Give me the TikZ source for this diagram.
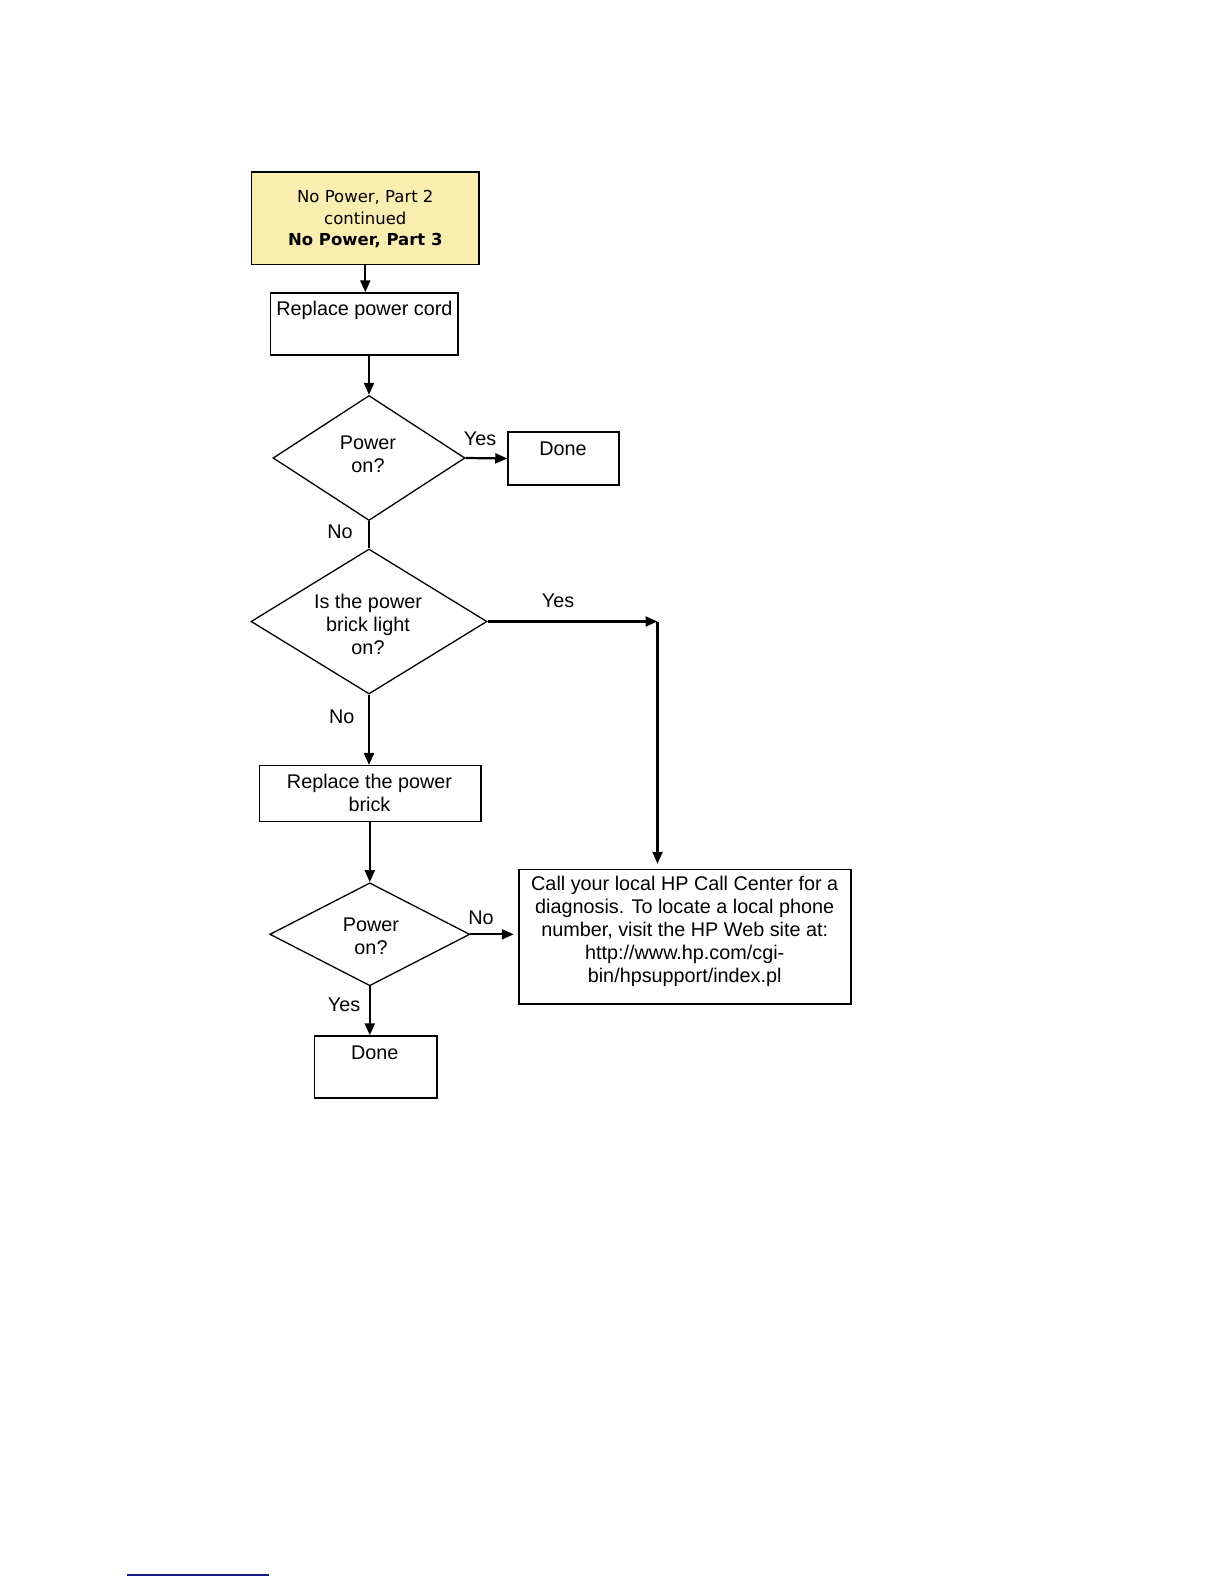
\documentclass[tikz,border=0pt]{standalone}
\usepackage{fontspec}
\setmainfont{Liberation Sans}
\newfontfamily\tahomalike{DejaVu Sans}
\usetikzlibrary{shapes.geometric,arrows.meta}
\definecolor{startyellow}{RGB}{250,237,176}
\definecolor{footblue}{RGB}{25,25,135}
\tikzset{
  box/.style={draw=black, line width=1.5pt, rectangle, inner sep=0pt},
  dia/.style={draw=black, line width=1.3pt, diamond, inner sep=0pt},
  txt/.style={font=\fontsize{19.8}{23}\selectfont, align=center, inner sep=0pt},
  lbl/.style={font=\fontsize{19.8}{23}\selectfont, inner sep=0pt},
  conn/.style={line width=2.2pt, -{Triangle[length=12pt,width=10pt]}},
  plain/.style={line width=2.2pt}
}
\begin{document}
\begin{tikzpicture}[x=1pt,y=-1pt]
\useasboundingbox (0,0) rectangle (1224,1584);
% start box
\node[box, fill=startyellow, minimum width=227.5pt, minimum height=92.5pt] (start) at (365.3,218.1) {};
\node[font=\tahomalike\fontsize{16.5}{21.5}\selectfont, align=center, inner sep=0pt] (starttxt) at (365.3,219.5)
  {No Power, Part 2\\continued\\\textbf{No Power, Part 3}};
% replace power cord
\node[box, minimum width=187.5pt, minimum height=62pt] (cord) at (364.4,324) {};
\node[txt] (cordtxt) at (364.4,310) {Replace power cord};
% first decision
\node[dia, minimum width=192pt, minimum height=125pt] (d1) at (369,458) {};
\node[txt] (d1txt) at (368,454) {Power\\on?};
\node[box, minimum width=111pt, minimum height=53pt] (done1) at (563.5,458.5) {};
\node[txt] (done1txt) at (563,449) {Done};
% second decision
\node[dia, minimum width=236pt, minimum height=145pt] (d2) at (369,621.5) {};
\node[txt] (d2txt) at (368,624) {Is the power\\brick light\\on?};
% replace brick
\node[box, minimum width=221.5pt, minimum height=56pt] (brick) at (370,793.7) {};
\node[txt] (bricktxt) at (369.5,793) {Replace the power\\brick};
% third decision
\node[dia, minimum width=200pt, minimum height=103pt] (d3) at (369.8,934.3) {};
\node[txt] (d3txt) at (371,936.5) {Power\\on?};
% call box
\node[box, minimum width=332pt, minimum height=134.5pt] (call) at (685,936.8) {};
\node[txt] (calltxt) at (684.7,931) {Call your local HP Call Center for a\\diagnosis. To locate a local phone\\number, visit the HP Web site at:\\http://www.hp.com/cgi-\\bin/hpsupport/index.pl};
% final done
\node[box, minimum width=122.5pt, minimum height=62pt] (done2) at (375.5,1067) {};
\node[txt] (done2txt) at (374.8,1053) {Done};
% corner
\coordinate (corner) at (657.5,621.5);
% connectors
\draw[conn] (start.south) -- (start.south |- cord.north);
\draw[conn] (d1.north |- cord.south) -- (d1.north);
\draw[conn] (d1.east) -- (done1.west);
\draw[plain] (d1.south) -- (d2.north);
\draw[conn] (d2.east) -- (corner);
\draw[conn, shorten >=5pt] (corner) -- (corner |- call.north);
\draw[conn] (d2.south) -- (d2.south |- brick.north);
\draw[conn] (d3.north |- brick.south) -- (d3.north);
\draw[conn, shorten >=4.5pt] (d3.east) -- (call.west |- d3.east);
\draw[conn] (d3.south) -- (d3.south |- done2.north);
% labels
\node[lbl] (yes1) at (480,439) {Yes};
\node[lbl] (no1) at (340,532) {No};
\node[lbl] (yes2) at (558,601) {Yes};
\node[lbl] (no2) at (341.7,716.5) {No};
\node[lbl] (no3) at (481,917.5) {No};
\node[lbl] (yes3) at (344,1004.5) {Yes};
% footnote rule
\coordinate (footL) at (126.5,1575);
\coordinate (footR) at (269,1575);
\draw[footblue, line width=1.4pt] (footL) -- (footR);
\end{tikzpicture}
\end{document}
